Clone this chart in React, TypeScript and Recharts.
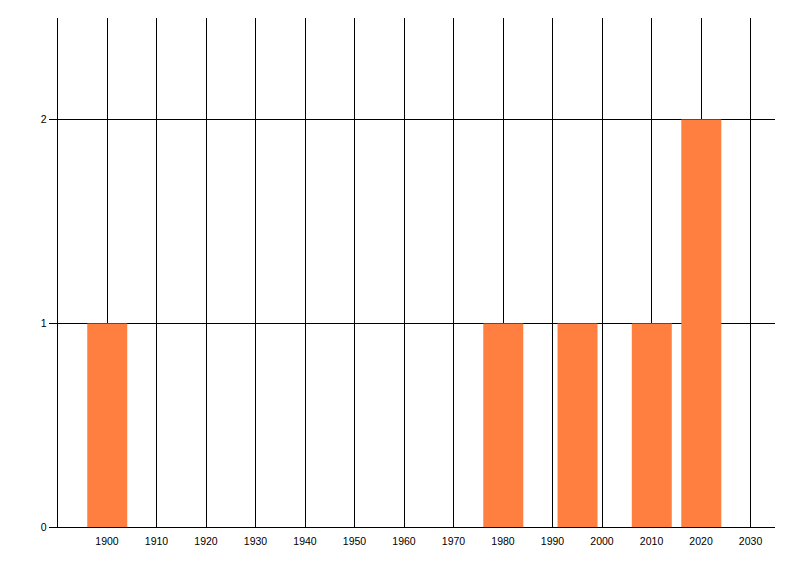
import React from "react";
import { BarChart, Bar, XAxis, YAxis, CartesianGrid } from "recharts";

const years = [1900, 1980, 1995, 2010, 2020];
const counts = [1, 1, 1, 1, 2];
const xTicks = [1900, 1910, 1920, 1930, 1940, 1950, 1960, 1970, 1980, 1990, 2000, 2010, 2020, 2030];
const yTicks = [0, 1, 2];

const data = years.map((y, i) => ({ year: y, count: counts[i] }));

const tickStyle = { fontFamily: "Liberation Sans, Arial, sans-serif", fontSize: 10.5, fill: "#000" };

export default function App() {
  return (
    <BarChart
      width={784}
      height={560}
      data={data}
      margin={{ top: 9.5, right: 16.7, left: 29.5, bottom: 10.5 }}
      barCategoryGap={0}
      barGap={0}
    >
      <CartesianGrid stroke="#000" strokeWidth={1} shapeRendering="crispEdges" syncWithTicks />
      <XAxis
        dataKey="year"
        type="number"
        domain={[1890, 2035]}
        ticks={xTicks}
        interval={0}
        allowDataOverflow
        tickLine={false}
        tickSize={6}
        tickMargin={4}
        axisLine={{ stroke: "#000", shapeRendering: "crispEdges" }}
        tick={tickStyle}
        height={30}
      />
      <YAxis
        type="number"
        domain={[0, 2.5]}
        ticks={yTicks}
        interval={0}
        allowDataOverflow
        tickSize={9}
        tickMargin={2}
        tickLine={{ stroke: "#000", shapeRendering: "crispEdges" }}
        axisLine={{ stroke: "#000", shapeRendering: "crispEdges" }}
        tick={tickStyle}
        width={20}
      />
      <Bar dataKey="count" fill="#FF7F41" barSize={40} isAnimationActive={false} />
    </BarChart>
  );
}
